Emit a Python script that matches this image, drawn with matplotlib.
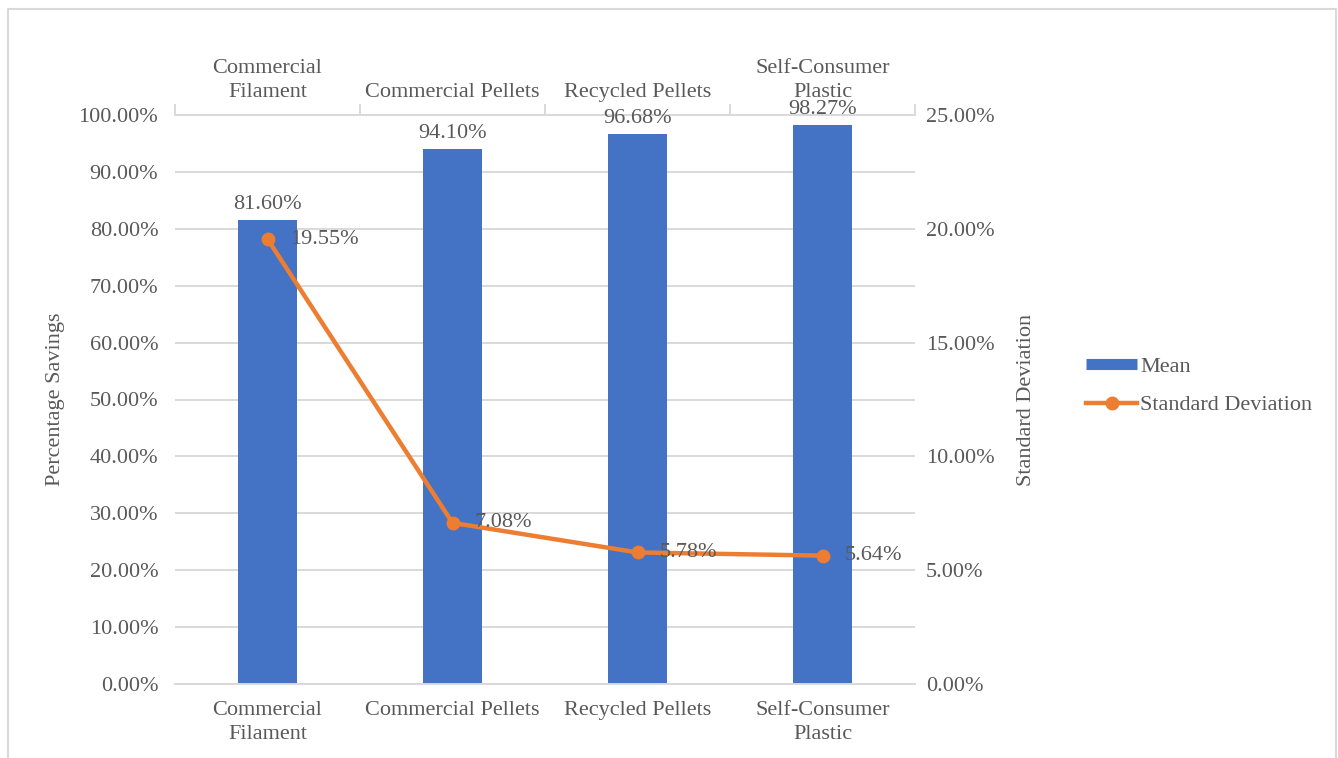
import matplotlib.pyplot as plt
from matplotlib.lines import Line2D
from matplotlib.ticker import FixedLocator, PercentFormatter

categories = ["Commercial\nFilament", "Commercial Pellets", "Recycled Pellets", "Self-Consumer\nPlastic"]
mean_values = [81.60, 94.10, 96.68, 98.27]
std_values = [19.55, 7.08, 5.78, 5.64]

BLUE = "#4472C4"
ORANGE = "#ED7D31"
GRID = "#D9D9D9"
TXT = "#595959"
FS = 16

plt.rcParams['font.family'] = ['Liberation Serif', 'DejaVu Serif']

W, H = 1338, 758
fig = plt.figure(figsize=(W / 100, H / 100), dpi=100)

# plot area in pixels: x 175..915, y 115..684
ax = fig.add_axes([175 / W, 1 - 684 / H, 740 / W, 569 / H])
x = list(range(len(categories)))

ax.bar(x, mean_values, width=0.315, color=BLUE, zorder=2)
for xi, v in zip(x, mean_values):
    ax.annotate(f"{v:.2f}%", (xi, v), xytext=(0, 4), textcoords="offset points",
                ha="center", va="bottom", fontsize=FS, color=TXT)

ax.set_xlim(-0.5, len(categories) - 0.5)
ax.set_ylim(0, 100)
ax.set_yticks(range(0, 101, 10))
ax.yaxis.set_major_formatter(PercentFormatter(decimals=2))
ax.grid(axis="y", color=GRID, linewidth=1.4)
ax.set_axisbelow(True)
ax.set_xticks(x)
ax.set_xticklabels(categories, fontsize=FS, color=TXT, linespacing=1.4)
ax.tick_params(axis="x", length=0, pad=12)
ax.tick_params(axis="y", length=0, labelsize=FS, labelcolor=TXT, pad=12)
ax.set_ylabel("Percentage Savings", fontsize=FS, color=TXT, labelpad=10)
for s in ["left", "right", "top"]:
    ax.spines[s].set_visible(False)
ax.spines["bottom"].set_color(GRID)
ax.spines["bottom"].set_linewidth(1.4)

# top category axis
top = ax.secondary_xaxis("top")
top.xaxis.set_major_locator(FixedLocator([i - 0.5 for i in range(len(categories) + 1)]))
top.set_xticklabels([])
top.set_xticks(x, labels=categories, minor=True)
top.tick_params(axis="x", which="major", length=8, width=1.4, color=GRID)
top.tick_params(axis="x", which="minor", length=0, labelsize=FS, labelcolor=TXT, pad=9)
for lab in top.get_xticklabels(minor=True):
    lab.set_linespacing(1.4)
top.spines["top"].set_color(GRID)
top.spines["top"].set_linewidth(1.4)

# secondary y axis for standard deviation
ax2 = ax.twinx()
ax2.plot(x, std_values, color=ORANGE, linewidth=3.2, marker="o", markersize=9, zorder=3)
for xi, v in zip(x, std_values):
    ax2.annotate(f"{v:.2f}%", (xi, v), xytext=(16, 0), textcoords="offset points",
                 ha="left", va="center", fontsize=FS, color=TXT)
ax2.set_ylim(0, 25)
ax2.set_yticks(range(0, 26, 5))
ax2.yaxis.set_major_formatter(PercentFormatter(decimals=2))
ax2.tick_params(axis="y", length=0, labelsize=FS, labelcolor=TXT, pad=8)
ax2.set_ylabel("Standard Deviation", fontsize=FS, color=TXT, labelpad=16)
for s in ax2.spines.values():
    s.set_visible(False)

handles = [
    Line2D([], [], color=BLUE, linewidth=8, solid_capstyle="butt"),
    Line2D([], [], color=ORANGE, linewidth=3.2, marker="o", markersize=9),
]
fig.legend(handles, ["Mean", "Standard Deviation"], loc="center left",
           bbox_to_anchor=(1066 / W, 1 - 386 / H), frameon=False, fontsize=FS,
           labelcolor=TXT, handlelength=2.3, handletextpad=0.15, labelspacing=0.8)

# outer chart border
fig.add_artist(Line2D([8 / W, 8 / W, 1336 / W, 1336 / W], [0, 1 - 9 / H, 1 - 9 / H, 0],
                      transform=fig.transFigure, color=GRID, linewidth=1.5))

fig.savefig("out.png", dpi=100)
